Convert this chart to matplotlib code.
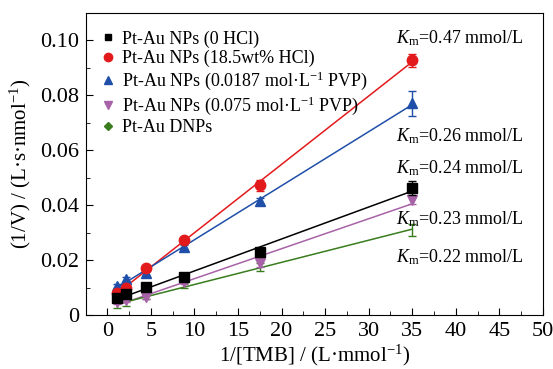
import numpy as np
import matplotlib
matplotlib.use("Agg")
import matplotlib.pyplot as plt
from matplotlib.ticker import MultipleLocator
from matplotlib.lines import Line2D

plt.rcParams['font.family'] = ['Liberation Serif', 'DejaVu Serif']
plt.rcParams['mathtext.fontset'] = 'custom'
plt.rcParams['mathtext.rm'] = 'Liberation Serif'
plt.rcParams['mathtext.it'] = 'Liberation Serif:italic'

x = [1.1, 2.2, 4.4, 8.8, 17.5, 35.0]

labels = ["Pt-Au NPs (0 HCl)",
          "Pt-Au NPs (18.5wt% HCl)",
          r"Pt-Au NPs (0.0187 mol·L$^{-1}$ PVP)",
          r"Pt-Au NPs (0.075 mol·L$^{-1}$ PVP)",
          "Pt-Au DNPs"]

y_black = [0.0062, 0.0076, 0.0102, 0.0138, 0.0229, 0.0462]
y_red = [0.0080, 0.0098, 0.0171, 0.0273, 0.0473, 0.0927]
y_blue = [0.0105, 0.0131, 0.0153, 0.0247, 0.0415, 0.0771]
y_purple = [0.0047, 0.0055, 0.0065, 0.0120, 0.0189, 0.0418]
y_green = [0.0035, 0.0045, 0.0068, 0.0108, 0.0175, 0.0310]

e_black = [0.0008, 0.0008, 0.0008, 0.0008, 0.0015, 0.0025]
e_red = [0.0008, 0.0008, 0.0008, 0.0008, 0.0020, 0.0025]
e_blue = [0.0008, 0.0008, 0.0008, 0.0008, 0.0012, 0.0045]
e_purple = [0.0008, 0.0008, 0.0008, 0.0008, 0.0015, 0.0015]
e_green = [0.0010, 0.0010, 0.0008, 0.0008, 0.0015, 0.0022]

km_texts = ["0.47", "0.26", "0.24", "0.23", "0.22"]
km_y = [0.1007, 0.0651, 0.0535, 0.0349, 0.0211]

series = [
    (y_black, e_black, '#000000', 's', 6.5),
    (y_red, e_red, '#e31a1c', 'o', 7.5),
    (y_blue, e_blue, '#1f4fa8', '^', 7.5),
    (y_purple, e_purple, '#a862a8', 'v', 7.5),
    (y_green, e_green, '#3a7d1e', 'D', 5.5),
]

fig, ax = plt.subplots(figsize=(5.53, 3.69), dpi=100)
fig.subplots_adjust(left=0.156, right=0.982, top=0.965, bottom=0.146)

xa = np.array(x)
handles = []
for i, ((yv, ev, c, m, ms), lab) in enumerate(zip(series, labels)):
    k, b = np.polyfit(xa, yv, 1)
    ax.plot([xa[0], xa[-1]], [k * xa[0] + b, k * xa[-1] + b], color=c, lw=1.1, zorder=2)
    if m == 'D':
        ax.errorbar(x, yv, yerr=ev, fmt='none', ecolor=c, capsize=3, elinewidth=1,
                    capthick=1, zorder=1)
    else:
        ax.errorbar(x, yv, yerr=ev, fmt=m, color=c, ms=ms, capsize=3, elinewidth=1,
                    capthick=1, zorder=3 + (4 - i) * 0.1)
    handles.append(Line2D([], [], ls='none', marker=m, color=c,
                          ms=ms - 1.5, label=lab))

for t, yy in zip(km_texts, km_y):
    ax.text(33.1, yy, r"$K_{\mathrm{m}}$" + "=" + t + " mmol/L", fontsize=13,
            va='center', ha='left')

ax.set_xlim(-2.4, 50)
ax.set_ylim(0, 0.11)
ax.xaxis.set_major_locator(MultipleLocator(5))
ax.xaxis.set_minor_locator(MultipleLocator(2.5))
ax.yaxis.set_minor_locator(MultipleLocator(0.01))
ax.set_yticks([0, 0.02, 0.04, 0.06, 0.08, 0.10])
ax.set_yticklabels(["0", "0.02", "0.04", "0.06", "0.08", "0.10"])
ax.tick_params(direction='in', which='both', labelsize=16)
ax.tick_params(which='major', length=5, pad=5)
ax.tick_params(which='minor', length=3)

ax.set_xlabel(r"1/[TMB] / (L·mmol$^{-1}$)", fontsize=15, labelpad=1)
ax.set_ylabel(r"(1/V) / (L·s·nmol$^{-1}$)", fontsize=15, labelpad=5)

ax.legend(handles=handles, loc='upper left', frameon=False, fontsize=13,
          handlelength=0.8, handletextpad=0.4, labelspacing=0.13,
          borderaxespad=0.0, bbox_to_anchor=(0.015, 0.966))

fig.savefig("out.png", dpi=100)
